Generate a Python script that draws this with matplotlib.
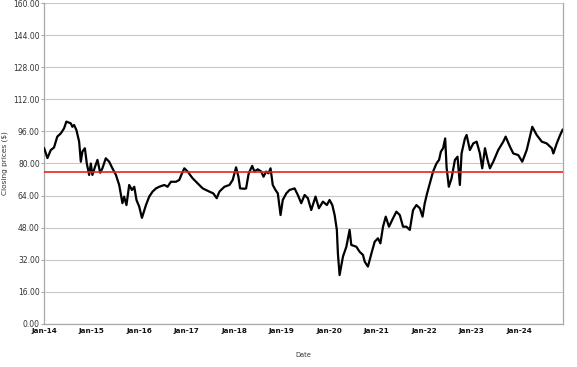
import matplotlib
matplotlib.use("Agg")
import matplotlib.pyplot as plt
import matplotlib.dates as mdates
import numpy as np
import pandas as pd

# closing prices
dates = [
    "2014-01-02", "2014-01-27", "2014-02-22", "2014-03-19", "2014-04-13", "2014-05-10",
    "2014-06-04", "2014-06-22", "2014-07-26", "2014-08-07", "2014-08-20", "2014-09-07",
    "2014-09-28", "2014-10-11", "2014-10-23", "2014-11-11", "2014-11-26", "2014-12-14",
    "2014-12-27", "2015-01-08", "2015-01-29", "2015-02-16", "2015-03-09", "2015-03-26",
    "2015-04-21", "2015-05-17", "2015-06-11", "2015-07-08", "2015-08-02", "2015-08-27",
    "2015-09-09", "2015-09-27", "2015-10-18", "2015-11-08", "2015-11-26", "2015-12-13",
    "2016-01-03", "2016-01-24", "2016-02-24", "2016-03-20", "2016-04-15", "2016-05-11",
    "2016-06-05", "2016-07-14", "2016-08-08", "2016-09-03", "2016-10-12", "2016-11-06",
    "2016-11-27", "2016-12-15", "2017-01-09", "2017-02-17", "2017-03-27", "2017-05-05",
    "2017-06-25", "2017-07-26", "2017-08-21", "2017-09-11", "2017-10-19", "2017-11-27",
    "2017-12-22", "2018-01-17", "2018-02-04", "2018-02-17", "2018-03-22", "2018-04-04",
    "2018-04-24", "2018-05-21", "2018-06-07", "2018-07-03", "2018-07-29", "2018-08-16",
    "2018-09-05", "2018-09-23", "2018-10-09", "2018-10-26", "2018-11-16", "2018-12-04",
    "2018-12-25", "2019-01-11", "2019-02-07", "2019-03-04", "2019-04-12", "2019-05-07",
    "2019-06-02", "2019-06-28", "2019-07-23", "2019-08-18", "2019-09-20", "2019-10-16",
    "2019-11-16", "2019-12-16", "2020-01-06", "2020-01-27", "2020-02-14", "2020-03-02",
    "2020-03-10", "2020-03-23", "2020-04-18", "2020-05-14", "2020-06-08", "2020-06-21",
    "2020-07-30", "2020-08-24", "2020-09-19", "2020-10-02", "2020-10-27", "2020-11-23",
    "2020-12-18", "2021-01-12", "2021-01-31", "2021-02-20", "2021-03-13", "2021-04-07",
    "2021-05-08", "2021-06-03", "2021-06-29", "2021-07-24", "2021-08-19", "2021-09-14",
    "2021-10-09", "2021-11-04", "2021-11-30", "2021-12-21", "2022-01-07", "2022-01-25",
    "2022-02-15", "2022-03-12", "2022-04-07", "2022-04-27", "2022-05-11", "2022-05-28",
    "2022-06-13", "2022-06-24", "2022-07-11", "2022-08-01", "2022-08-27", "2022-09-16",
    "2022-10-04", "2022-10-17", "2022-11-12", "2022-11-25", "2022-12-20", "2023-01-15",
    "2023-02-10", "2023-03-07", "2023-03-25", "2023-04-15", "2023-05-05", "2023-05-23",
    "2023-06-18", "2023-07-26", "2023-09-03", "2023-09-21", "2023-10-24", "2023-11-19",
    "2023-12-27", "2024-01-27", "2024-03-01", "2024-03-26", "2024-04-13", "2024-05-17",
    "2024-06-25", "2024-08-02", "2024-09-10", "2024-09-22", "2024-10-18", "2024-11-13",
    "2024-12-02",
]
prices = [
    87.6, 82.7, 86.7, 88.0, 93.4, 95.0,
    97.5, 100.9, 100.0, 98.3, 99.2, 96.7,
    90.9, 80.9, 85.9, 87.6, 80.0, 74.3,
    80.0, 74.3, 78.5, 81.8, 75.4, 77.6,
    82.6, 80.9, 77.6, 74.3, 69.3, 60.2,
    63.5, 59.3, 69.3, 66.8, 68.4, 61.8,
    58.5, 52.9, 59.3, 63.5, 66.0, 67.6,
    68.4, 69.3, 68.4, 70.9, 70.9, 71.8,
    75.1, 77.6, 76.0, 72.6, 70.1, 67.6,
    66.0, 65.1, 62.7, 66.0, 68.4, 69.3,
    71.8, 78.1, 73.4, 67.6, 67.4, 67.6,
    75.1, 78.8, 76.0, 77.1, 76.0, 73.4,
    76.0, 75.1, 77.6, 69.3, 66.8, 65.1,
    54.3, 61.8, 65.1, 66.8, 67.6, 64.3,
    60.2, 64.3, 62.7, 56.8, 63.5, 57.7,
    61.0, 59.3, 61.8, 59.3, 54.3, 46.9,
    35.2, 24.4, 33.6, 38.5, 46.9, 39.4,
    38.5, 36.0, 34.4, 31.1, 28.6, 35.2,
    41.0, 42.7, 40.2, 48.5, 53.5, 48.5,
    52.7, 56.0, 54.3, 48.5, 48.5, 46.9,
    56.8, 59.3, 57.7, 53.5, 60.2, 65.1,
    70.1, 76.0, 80.0, 81.8, 85.9, 87.6,
    92.5, 78.0, 68.4, 72.6, 81.8, 83.4,
    69.3, 85.0, 92.5, 94.2, 86.7, 90.0,
    90.9, 85.0, 77.6, 87.6, 81.8, 77.6,
    80.9, 86.7, 90.9, 93.4, 88.4, 85.0,
    84.2, 80.9, 86.7, 93.4, 98.3, 94.2,
    90.9, 90.0, 87.6, 85.0, 90.0, 94.2,
    96.8,
]
average_price = 75.8
y_ticks = np.arange(0, 161, 16)
tick_years = list(range(2014, 2025))

dates = pd.to_datetime(dates)

fig = plt.figure(figsize=(5.77, 3.67), dpi=100)
ax = fig.add_axes([0.0763, 0.1172, 0.9003, 0.8746])

ax.plot(dates, prices, color="black", lw=1.6, zorder=3)
ax.axhline(average_price, color="#e3261d", lw=1.2, zorder=4)

ax.set_ylim(0, 160)
ax.set_yticks(y_ticks)
ax.yaxis.set_major_formatter(matplotlib.ticker.FormatStrFormatter("%.2f"))
ax.set_xlim(pd.Timestamp("2014-01-01"), pd.Timestamp("2024-12-09"))
ax.set_xticks(pd.to_datetime([f"{y}-01-01" for y in tick_years]))
ax.xaxis.set_major_formatter(mdates.DateFormatter("%b-%y"))

ax.grid(axis="y", color="#c8c8c8", lw=0.8)
ax.set_axisbelow(True)
for side in ["left", "bottom", "right"]:
    ax.spines[side].set_color("#a8a8a8")
    ax.spines[side].set_linewidth(0.9)
ax.spines["top"].set_visible(False)

ax.tick_params(axis="y", length=2, width=0.8, color="#a8a8a8", pad=1,
               labelsize=5.5, labelcolor="#333333")
ax.tick_params(axis="x", length=0, pad=3, labelsize=5.2, labelcolor="#111111")
for lbl in ax.get_xticklabels():
    lbl.set_fontweight("bold")

ax.set_ylabel("Closing prices ($)", fontsize=5.3, color="#333333", labelpad=4)
ax.set_xlabel("Date", fontsize=4.8, color="#333333", labelpad=13)

fig.savefig("out.png", dpi=100)
